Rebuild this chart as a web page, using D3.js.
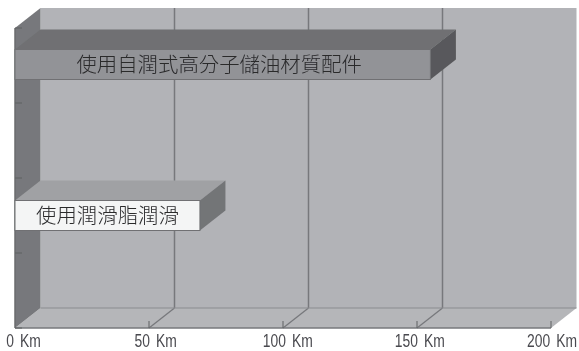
<!DOCTYPE html>
<html>
<head>
<meta charset="utf-8">
<script src="https://cdn.jsdelivr.net/npm/d3@7"></script>
<style>
	html, body {margin: 0; padding: 0; background: #fff;}
	svg {display: block;}
	.tick-label {font-family: "Liberation Sans", sans-serif; font-size: 18px; fill: #4a4a4f; word-spacing: 3px;}
	.bar-label {font-family: "Noto Sans CJK TC", sans-serif; font-weight: 300; font-size: 20.4px; fill: #2a2a2c;}
</style>
</head>
<body>
<script>
	var categories = ['使用自潤式高分子儲油材質配件', '使用潤滑脂潤滑'];
	var distances = [155, 69];
	var xTicks = [0, 50, 100, 150, 200];
	var xTickLabels = ['0 Km', '50 Km', '100 Km', '150 Km', '200 Km'];
	var yTicks = [0, 1, 2, 3, 4];
	var barFrontColors = ['#929397', '#f4f5f5'];
	var barTopColors = ['#6f7073', '#a0a1a4'];
	var barSideColors = ['#58595b', '#737477'];

	var width = 579, height = 351,
			depthX = 25.5, depthY = -20,
			barHeight = 30,
			svg, chart, x, y, band, labelX;

	svg = d3.select('body').append('svg')
		.attr('width', width)
		.attr('height', height);

	// The reference is a soft scan, so take the edge off everything.
	svg.append('defs').append('filter')
		.attr('id', 'soft')
		.append('feGaussianBlur').attr('stdDeviation', 0.45);
	chart = svg.append('g').attr('filter', 'url(#soft)');

	x = d3.scaleLinear().domain([0, 200]).range([15, 551]);
	y = d3.scaleLinear().domain([0, 4]).range([328, 28]);
	band = d3.scalePoint().domain(categories).range([64.5, 215.5]);
	// Labels drift left of their ticks so the last one still fits.
	labelX = d3.scaleLinear().domain([0, 200]).range([23.5, 552]);

	function poly(points, fill) {
		return chart.append('polygon')
			.attr('points', points.map(function(p) {return p.join(',');}).join(' '))
			.attr('fill', fill);}

	// Walls and floor.
	poly([[x(0) + depthX, y(4) + depthY], [x(200) + depthX, y(4) + depthY],
		[x(200) + depthX, y(0) + depthY], [x(0) + depthX, y(0) + depthY]], '#b2b3b7');
	poly([[x(0), y(0)], [x(200), y(0)],
		[x(200) + depthX, y(0) + depthY], [x(0) + depthX, y(0) + depthY]], '#b5b6b9');
	poly([[x(0), y(4)], [x(0) + depthX, y(4) + depthY],
		[x(0) + depthX, y(0) + depthY], [x(0), y(0)]], '#77787b');

	// Grid lines, back wall then floor.
	xTicks.slice(1, 4).forEach(function(t) {
		chart.append('line')
			.attr('x1', x(t) + depthX).attr('x2', x(t) + depthX)
			.attr('y1', y(4) + depthY).attr('y2', y(0) + depthY)
			.attr('stroke', '#77787c').attr('stroke-width', 1.5);
		chart.append('line')
			.attr('x1', x(t) + depthX).attr('x2', x(t))
			.attr('y1', y(0) + depthY).attr('y2', y(0))
			.attr('stroke', '#77787c').attr('stroke-width', 1.3);
		});
	chart.append('line')
		.attr('x1', x(0) + depthX).attr('x2', x(200) + depthX)
		.attr('y1', y(0) + depthY).attr('y2', y(0) + depthY)
		.attr('stroke', '#8a8b8f').attr('stroke-width', 1);

	// Axis lines and ticks.
	chart.append('line')
		.attr('x1', x(0)).attr('x2', x(200))
		.attr('y1', y(0)).attr('y2', y(0))
		.attr('stroke', '#77787c').attr('stroke-width', 1.5);
	chart.append('line')
		.attr('x1', x(0)).attr('x2', x(0))
		.attr('y1', y(4)).attr('y2', y(0))
		.attr('stroke', '#6a6b6e').attr('stroke-width', 1.5);
	chart.selectAll('.y-tick').data(yTicks).enter().append('line')
		.attr('class', 'y-tick')
		.attr('x1', x(0)).attr('x2', x(0) + 7)
		.attr('y1', y).attr('y2', y)
		.attr('stroke', '#5f6063');
	chart.selectAll('.x-tick').data(xTicks.slice(1)).enter().append('line')
		.attr('class', 'x-tick')
		.attr('x1', x).attr('x2', x)
		.attr('y1', y(0) - 7).attr('y2', y(0))
		.attr('stroke', '#5f6063');

	// Bars.
	categories.forEach(function(name, i) {
		var x0 = x(0),
				x1 = x(distances[i]),
				top = band(name) - barHeight / 2,
				bottom = band(name) + barHeight / 2;
		poly([[x0, top], [x1, top], [x1 + depthX, top + depthY], [x0 + depthX, top + depthY]], barTopColors[i]);
		poly([[x1, top], [x1 + depthX, top + depthY], [x1 + depthX, bottom + depthY], [x1, bottom]], barSideColors[i]);
		chart.append('rect')
			.attr('x', x0).attr('y', top)
			.attr('width', x1 - x0).attr('height', barHeight)
			.attr('fill', barFrontColors[i])
			.attr('stroke', '#6f7073').attr('stroke-width', 1);
		chart.append('text')
			.attr('class', 'bar-label')
			.attr('x', (x0 + x1) / 2 - (i ? 0 : 3.5))
			.attr('y', band(name))
			.attr('dy', '0.36em')
			.attr('text-anchor', 'middle')
			.text(name);
		});

	// Tick labels, squeezed to the narrow face of the reference.
	chart.selectAll('.tick-label').data(xTicks).enter().append('text')
		.attr('class', 'tick-label')
		.attr('transform', function(d) {return 'translate(' + labelX(d) + ',347)scale(0.77,1)';})
		.attr('text-anchor', 'middle')
		.text(function(d, i) {return xTickLabels[i];});
</script>
</body>
</html>
